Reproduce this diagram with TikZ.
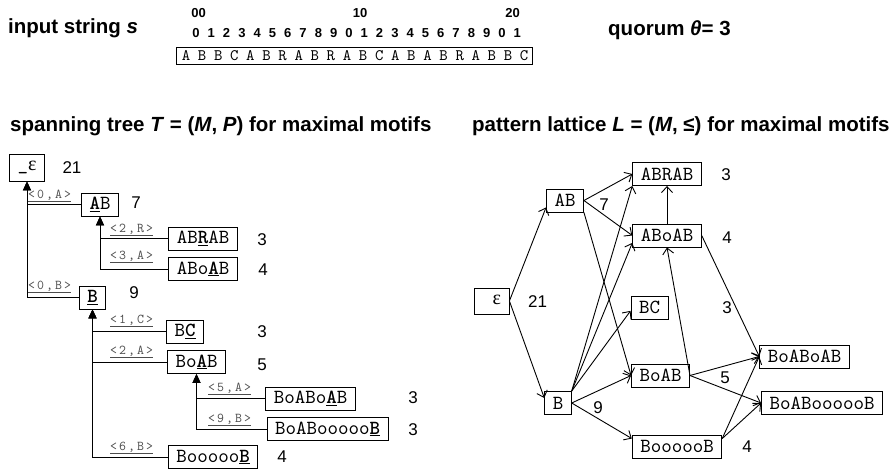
\documentclass[tikz,border=0pt]{standalone}
\usepackage{fontspec}
\setmainfont{Liberation Sans}
\setmonofont{lmmono10-regular.otf}[BoldFont=lmmonolt10-bold.otf]
\newfontfamily\tagfont[LetterSpace=15]{Latin Modern Mono}
\newfontfamily\grkfont{Liberation Serif}
\usetikzlibrary{arrows.meta}
% bold, underlined letter inside a motif
\newcommand\hl[1]{\underline{\textbf{#1}}}
\newcommand\eps{{\grkfont ε}}

\begin{document}
\begin{tikzpicture}[x=1pt, y=-1pt,
  box/.style={draw, line width=0.9pt, font=\ttfamily\fontsize{20}{22}\selectfont,
              inner xsep=8pt, inner ysep=0pt, minimum height=23pt},
  epsbox/.style={box, minimum height=27pt},
  cnt/.style={font=\fontsize{17}{20}\selectfont, inner sep=0pt},
  head/.style={font=\fontsize{20.5}{24}\selectfont\bfseries, inner sep=0pt, anchor=west},
  tag/.style={font=\tagfont\fontsize{13.5}{15}\selectfont, text=black!70, inner sep=0pt, anchor=base west},
  dig/.style={font=\fontsize{13}{15}\selectfont\bfseries, inner sep=0pt},
  strch/.style={font=\ttfamily\fontsize{16}{18}\selectfont, inner sep=0pt},
  tree/.style={line width=1pt, -{Triangle[length=9pt,width=8pt]}},
  lat/.style={line width=0.9pt, -{Straight Barb[length=6pt,width=11pt]}}]
\useasboundingbox (0,0) rectangle (890,468);

% ---------- input string and quorum ----------
\node[head] (inlabel) at (8,28) {input string \textit{s}};
\node[head] (quorum) at (608,30) {quorum \textit{θ}= 3};
\node[dig] (t00) at (198.5,13) {00};
\node[dig] (t10) at (360,13) {10};
\node[dig] (t20) at (512.5,13) {20};
\foreach \i in {0,...,21} {
  \pgfmathtruncatemacro\d{mod(\i,10)}
  \node[dig] (d\i) at (196+15.3*\i,33) {\d};
}
\node[draw, line width=0.9pt, minimum width=356pt, minimum height=17pt, inner sep=0pt] (str) at (354,55.5) {};
\foreach \c [count=\i from 0] in {A,B,B,C,A,B,R,A,B,R,A,B,C,A,B,A,B,R,A,B,B,C}
  \node[strch] (s\i) at (186+16.1*\i,56) {\c};

% ---------- headings ----------
\node[head] (treehead) at (10,126) {spanning tree \textit{T} = (\textit{M}, \textit{P}) for maximal motifs};
\node[head] (lathead) at (472,126) {pattern lattice \textit{L} = (\textit{M}, ≤) for maximal motifs};

% ---------- spanning tree ----------
\node[epsbox] (eps_t) at (27,167.5) {\_\eps};
\node[box] (AB_t) at (100,204.5) {\hl{A}B};
\node[box] (ABRAB_t) at (203,238.5) {AB\hl{R}AB};
\node[box] (ABoAB_t) at (203,269) {ABo\hl{A}B};
\node[box] (B_t) at (92.5,297.5) {\hl{B}};
\node[box] (BC_t) at (185,331.5) {B\hl{C}};
\node[box] (BoAB_t) at (196.5,362) {Bo\hl{A}B};
\node[box] (BoABoAB_t) at (310.5,398.5) {BoABo\hl{A}B};
\node[box] (BoABoooooB_t) at (327.5,429) {BoABooooo\hl{B}};
\node[box] (BoooooB_t) at (213,457) {Booooo\hl{B}};

\node[cnt] (c_eps_t) at (72,168) {21};
\node[cnt] (c_AB_t) at (136,203) {7};
\node[cnt] (c_ABRAB_t) at (262,240) {3};
\node[cnt] (c_ABoAB_t) at (263,270) {4};
\node[cnt] (c_B_t) at (134,293) {9};
\node[cnt] (c_BC_t) at (262,332) {3};
\node[cnt] (c_BoAB_t) at (262,365) {5};
\node[cnt] (c_BoABoAB_t) at (413,398) {3};
\node[cnt] (c_BoABoooooB_t) at (413,430) {3};
\node[cnt] (c_BoooooB_t) at (282,457) {4};

\draw[tree] (AB_t.west) -| (eps_t.south);
\draw[tree] (B_t.west) -| (eps_t.south);
\draw[tree] (ABRAB_t.west) -| (AB_t.south);
\draw[tree] (ABoAB_t.west) -| (AB_t.south);
\draw[tree] (BC_t.west) -| (B_t.south);
\draw[tree] (BoAB_t.west) -| (B_t.south);
\draw[tree] (BoooooB_t.west) -| (B_t.south);
\draw[tree] (BoABoAB_t.west) -| (BoAB_t.south);
\draw[tree] (BoABoooooB_t.west) -| (BoAB_t.south);

\node[tag] (e_AB) at (28,198) {\underline{<0,A>}};
\node[tag] (e_B) at (28,289) {\underline{<0,B>}};
\node[tag] (e_ABRAB) at (110,232) {\underline{<2,R>}};
\node[tag] (e_ABoAB) at (110,259) {\underline{<3,A>}};
\node[tag] (e_BC) at (110,323) {\underline{<1,C>}};
\node[tag] (e_BoAB) at (110,354) {\underline{<2,A>}};
\node[tag] (e_BoooooB) at (110,450) {\underline{<6,B>}};
\node[tag] (e_BoABoAB) at (208,391) {\underline{<5,A>}};
\node[tag] (e_BoABoooooB) at (208,422) {\underline{<9,B>}};

% ---------- pattern lattice ----------
\node[box, minimum height=26pt] (eps_l) at (491.5,301) {\phantom{\_}\eps};
\node[box] (AB_l) at (565,200.5) {AB};
\node[box] (ABRAB_l) at (667,174) {ABRAB};
\node[box] (ABoAB_l) at (667,235.5) {ABoAB};
\node[box] (BC_l) at (649.5,307.5) {BC};
\node[box] (BoAB_l) at (660.5,375.5) {BoAB};
\node[box] (B_l) at (558,403) {B};
\node[box] (BoooooB_l) at (677,446.5) {BoooooB};
\node[box] (BoABoAB_l) at (804.5,356.5) {BoABoAB};
\node[box] (BoABoooooB_l) at (822,403) {BoABoooooB};

\node[cnt] (c_eps_l) at (537.5,302) {21};
\node[cnt] (c_AB_l) at (604,205) {7};
\node[cnt] (c_ABRAB_l) at (726,175) {3};
\node[cnt] (c_ABoAB_l) at (727,238) {4};
\node[cnt] (c_BC_l) at (727,308) {3};
\node[cnt] (c_BoAB_l) at (725,378) {5};
\node[cnt] (c_B_l) at (598,408) {9};
\node[cnt] (c_BoooooB_l) at (747,447) {4};

\draw[lat] (eps_l.east) -- (AB_l.200);
\draw[lat] (eps_l.east) -- (B_l.160);
\draw[lat] (AB_l.east) -- (ABRAB_l.west);
\draw[lat] (AB_l.east) -- (ABoAB_l.west);
\draw[lat] (AB_l.south east) -- (BoAB_l.west);
\draw[lat] (B_l.north east) -- (ABRAB_l.south west);
\draw[lat] (B_l.north east) -- (ABoAB_l.192);
\draw[lat] (B_l.north east) -- (BC_l.190);
\draw[lat] (B_l.east) -- (BoAB_l.west);
\draw[lat] (B_l.east) -- (BoooooB_l.170);
\draw[lat] (BoAB_l.east) -- (ABoAB_l.south);
\draw[lat] (ABoAB_l.north) -- (ABRAB_l.south);
\draw[lat] (ABoAB_l.east) -- (BoABoAB_l.west);
\draw[lat] (BoAB_l.east) -- (BoABoAB_l.west);
\draw[lat] (BoAB_l.east) -- (BoABoooooB_l.west);
\draw[lat] (BoooooB_l.10) -- (BoABoAB_l.west);
\draw[lat] (BoooooB_l.10) -- (BoABoooooB_l.west);
\end{tikzpicture}
\end{document}
